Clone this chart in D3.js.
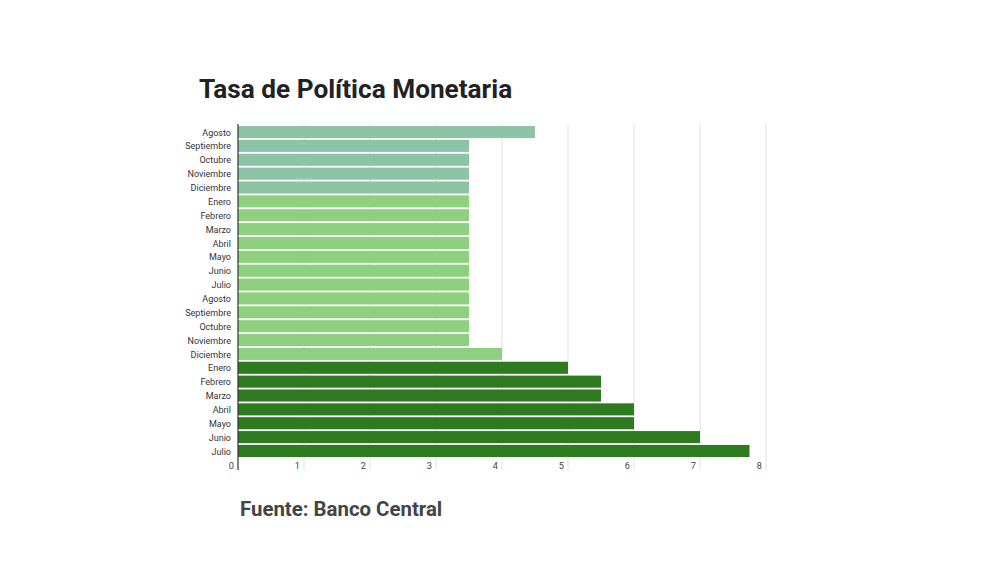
<!DOCTYPE html>
<html><head><meta charset="utf-8">
<script src="https://cdn.jsdelivr.net/npm/d3@7/dist/d3.min.js"></script>
<style>body{margin:0;background:#fff;font-family:Roboto,sans-serif}</style>
</head><body><svg id="c" width="1000" height="562"></svg>
<script>
const months = ["Agosto","Septiembre","Octubre","Noviembre","Diciembre","Enero","Febrero","Marzo","Abril","Mayo","Junio","Julio","Agosto","Septiembre","Octubre","Noviembre","Diciembre","Enero","Febrero","Marzo","Abril","Mayo","Junio","Julio"];
const rates = [4.5,3.5,3.5,3.5,3.5,3.5,3.5,3.5,3.5,3.5,3.5,3.5,3.5,3.5,3.5,3.5,4.0,5.0,5.5,5.5,6.0,6.0,7.0,7.75];
const groups = [0,0,0,0,0,1,1,1,1,1,1,1,1,1,1,1,1,2,2,2,2,2,2,2];
const groupColors = ["#8dc4a6","#8fcf80","#2e7b1f"];
const xTicks = [0,1,2,3,4,5,6,7,8];

const svg = d3.select("#c");
const x = d3.scaleLinear().domain([0,8]).range([238,766]);
const y = d3.scaleBand().domain(d3.range(months.length)).range([126,457]).paddingInner(0.13).paddingOuter(0.0);

svg.append("g").selectAll("line").data(xTicks.slice(1)).join("line")
  .attr("x1",d=>x(d)).attr("x2",d=>x(d)).attr("y1",124).attr("y2",470)
  .attr("stroke","#e0e0e0").attr("stroke-width",1);

svg.append("g").selectAll("rect").data(rates).join("rect")
  .attr("x",x(0)).attr("y",(d,i)=>y(i)).attr("height",y.bandwidth())
  .attr("width",d=>x(d)-x(0)).attr("fill",(d,i)=>groupColors[groups[i]]);

svg.append("line").attr("x1",x(0)).attr("x2",x(0)).attr("y1",124).attr("y2",470)
  .attr("stroke","#333").attr("stroke-width",1.2);

svg.append("g").selectAll("text").data(months).join("text")
  .attr("x",231).attr("y",(d,i)=>y(i)+y.bandwidth()/2).attr("dy","0.4em")
  .attr("text-anchor","end").attr("font-size",9).attr("fill","#333").text(d=>d);

svg.append("g").selectAll("text").data(xTicks).join("text")
  .attr("x",d=>x(d)-4).attr("y",469).attr("text-anchor","end")
  .attr("font-size",9.2).attr("fill","#444").text(d=>d);

svg.append("text").attr("x",199).attr("y",98).attr("font-size",26.2).attr("font-weight",700)
  .attr("fill","#222").text("Tasa de Política Monetaria");
svg.append("text").attr("x",240).attr("y",516).attr("font-size",20.4).attr("font-weight",700)
  .attr("fill","#444").text("Fuente: Banco Central");
</script></body></html>
